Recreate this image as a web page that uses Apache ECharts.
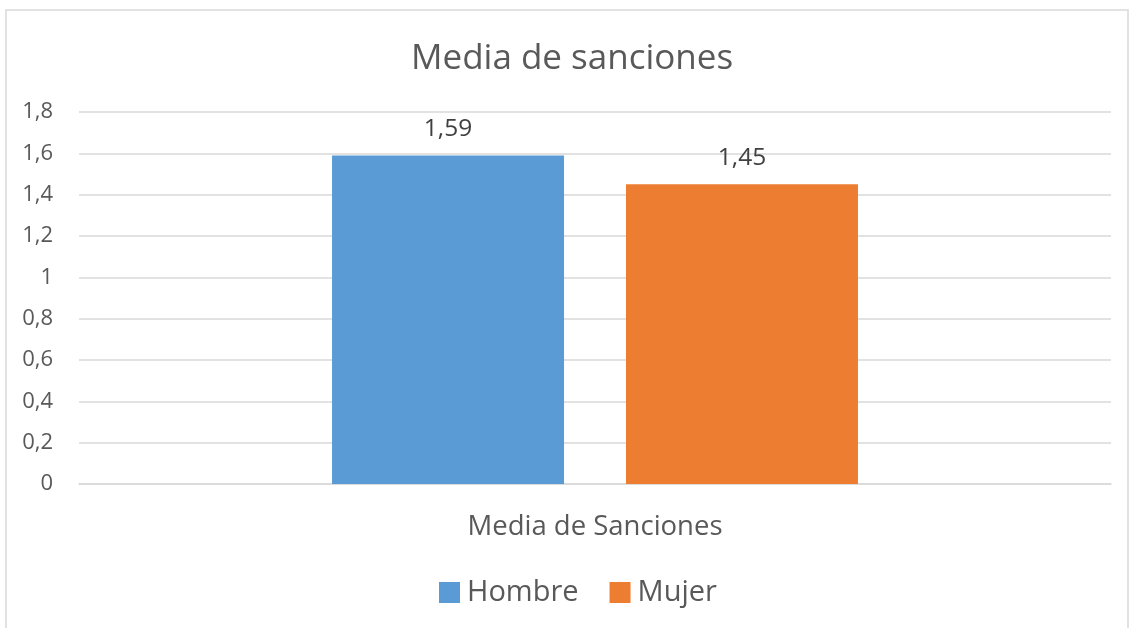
<!DOCTYPE html>
<html>
<head>
<meta charset="utf-8">
<style>
  html, body { margin: 0; padding: 0; background: #fff; }
  #chart { width: 1129px; height: 628px; }
</style>
<script src="https://cdn.jsdelivr.net/npm/echarts@6/dist/echarts.min.js"></script>
</head>
<body>
<div id="chart"></div>
<script>
// Average number of sanctions by sex
const categories = ['Media de Sanciones'];
const seriesNames = ['Hombre', 'Mujer'];
const hombre = [1.59];
const mujer = [1.45];
const seriesColors = ['#5B9BD5', '#ED7D31'];

const FONT = '"Open Sans", "Noto Sans", sans-serif';
const TEXT = '#595959';
const comma = v => String(v).replace('.', ',');

const chart = echarts.init(document.getElementById('chart'), null, { renderer: 'canvas' });

const valueLabel = {
  show: true, position: 'top', distance: 14,
  fontFamily: FONT, fontSize: 24.5, color: '#404040',
  formatter: p => comma(p.value)
};

chart.setOption({
  animation: false,
  backgroundColor: '#ffffff',
  color: seriesColors,
  title: {
    text: 'Media de sanciones',
    left: 406,
    top: 37,
    textStyle: { fontFamily: FONT, fontSize: 35, fontWeight: 'normal', color: TEXT }
  },
  legend: {
    data: seriesNames,
    bottom: 16,
    left: 434,
    icon: 'rect',
    itemWidth: 21,
    itemHeight: 21,
    itemGap: 31,
    textStyle: { fontFamily: FONT, fontSize: 29, color: TEXT, padding: [0, 0, 0, 2] }
  },
  grid: { left: 79, right: 18, top: 112, bottom: 144 },
  xAxis: {
    type: 'category',
    data: categories,
    axisLine: { show: true, lineStyle: { color: '#D9D9D9', width: 1.5 } },
    axisTick: { show: false },
    axisLabel: { fontFamily: FONT, fontSize: 27.5, color: TEXT, margin: 29 }
  },
  yAxis: {
    type: 'value',
    min: 0,
    max: 1.8,
    interval: 0.2,
    axisLine: { show: false },
    axisTick: { show: false },
    splitLine: { lineStyle: { color: '#D9D9D9', width: 1.5 } },
    axisLabel: {
      fontFamily: FONT, fontSize: 22, color: TEXT, margin: 26,
      formatter: v => comma(Math.round(v * 10) / 10)
    }
  },
  series: [
    {
      name: seriesNames[0],
      type: 'bar',
      data: hombre,
      barWidth: 232,
      barGap: '26.7%',
      label: valueLabel
    },
    {
      name: seriesNames[1],
      type: 'bar',
      data: mujer,
      barWidth: 232,
      barGap: '26.7%',
      label: valueLabel
    }
  ],
  graphic: [
    {
      type: 'rect',
      silent: true,
      shape: { x: 6, y: 10, width: 1122, height: 700 },
      style: { fill: 'none', stroke: '#D9D9D9', lineWidth: 1.5 }
    }
  ]
});
</script>
</body>
</html>
